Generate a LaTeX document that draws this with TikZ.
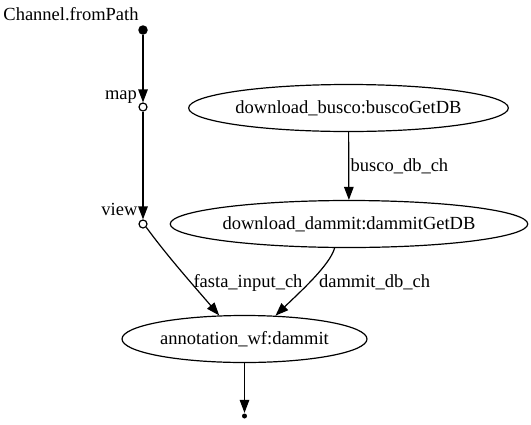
\documentclass[tikz,border=0pt]{standalone}
\usepackage{fontspec}
\setmainfont{Liberation Serif}
\usetikzlibrary{arrows.meta,shapes.geometric}

\begin{document}
\begin{tikzpicture}[x=1pt, y=-1pt, line width=1.2pt]
  \tikzset{every node/.style={font=\fontsize{18.5}{20}\selectfont},
    proc/.style={draw, ellipse, inner sep=0pt, minimum height=47pt},
    op/.style={draw, circle, inner sep=0pt, minimum size=8pt, fill=white},
    src/.style={circle, fill, inner sep=0pt, minimum size=9.5pt},
    sink/.style={circle, fill, inner sep=0pt, minimum size=5pt},
    flow/.style={-{Triangle[length=13pt,width=9.5pt]}},
    lbl/.style={inner sep=0pt}}
  \useasboundingbox (0,0) rectangle (531,424);
  % channel operators
  \node[src] (from) at (143,30) {};
  \node[lbl, anchor=base] (from-l) at (71,20) {Channel.fromPath};
  \node[op] (map) at (143,107) {};
  \node[lbl, anchor=base east] (map-l) at (137.5,99) {map};
  \node[op] (view) at (143,224) {};
  \node[lbl, anchor=base east] (view-l) at (138,215) {view};
  % processes
  \node[proc, minimum width=315pt] (busco) at (348.5,108) {download\_busco:buscoGetDB};
  \node[proc, minimum width=354pt] (dammit) at (349,224) {download\_dammit:dammitGetDB};
  \node[proc, minimum width=245pt] (anno) at (244.5,339) {annotation\_wf:dammit};
  \node[sink] (end) at (244.5,416) {};
  % edges
  \draw[flow] (from) -- (map);
  \draw[flow] (map) -- (view);
  \draw[flow] (busco) -- (dammit);
  \node[lbl, anchor=base west] (busco-l) at (350,171) {busco\_db\_ch};
  \draw[flow] (view.south east) .. controls (168,257) and (194,286) .. (anno.137);
  \draw[flow] (dammit.239) .. controls (330,265) and (300,292) .. (anno.37);
  \node[lbl, anchor=base] (fasta-l) at (248,287) {fasta\_input\_ch};
  \node[lbl, anchor=base west] (db-l) at (318.5,287) {dammit\_db\_ch};
  \draw[flow] (anno) -- (end);
\end{tikzpicture}
\end{document}
